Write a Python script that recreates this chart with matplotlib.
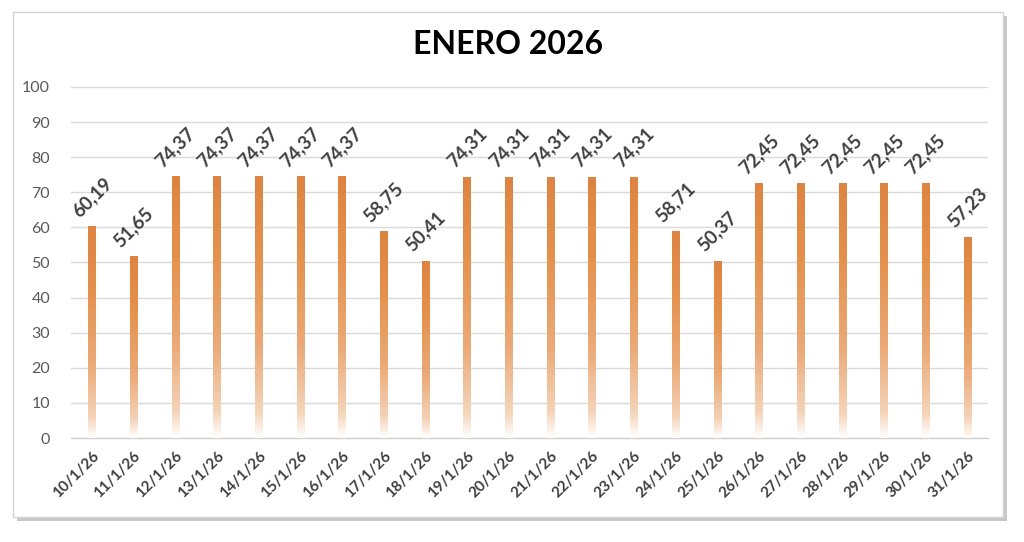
import matplotlib
matplotlib.use("Agg")
import matplotlib.pyplot as plt
import numpy as np
from matplotlib.colors import LinearSegmentedColormap
from matplotlib.patches import Rectangle

categories = ["10/1/26", "11/1/26", "12/1/26", "13/1/26", "14/1/26", "15/1/26", "16/1/26",
              "17/1/26", "18/1/26", "19/1/26", "20/1/26", "21/1/26", "22/1/26", "23/1/26",
              "24/1/26", "25/1/26", "26/1/26", "27/1/26", "28/1/26", "29/1/26", "30/1/26",
              "31/1/26"]
values = [60.19, 51.65, 74.37, 74.37, 74.37, 74.37, 74.37,
          58.75, 50.41, 74.31, 74.31, 74.31, 74.31, 74.31,
          58.71, 50.37, 72.45, 72.45, 72.45, 72.45, 72.45,
          57.23]
title = "ENERO 2026"
yticks = [0, 10, 20, 30, 40, 50, 60, 70, 80, 90, 100]

plt.rcParams['font.family'] = ['Lato', 'DejaVu Sans']

W, H = 1024, 542
fig = plt.figure(figsize=(W / 100, H / 100), dpi=100)
fig.patch.set_facecolor('white')

def fx(px):
    return px / W
def fy(py):
    return 1 - py / H

shadow = Rectangle((fx(17), fy(521)), fx(1007) - fx(17), fy(16) - fy(521),
                   transform=fig.transFigure, facecolor='#c8c8c8', edgecolor='none', zorder=0)
frame = Rectangle((fx(13), fy(517)), fx(1003) - fx(13), fy(12) - fy(517),
                  transform=fig.transFigure, facecolor='white', edgecolor='#d4d4d4',
                  linewidth=1.0, zorder=1)
fig.patches.extend([shadow, frame])

ax = fig.add_axes([fx(71), fy(438), fx(988) - fx(71), fy(87) - fy(438)])
ax.set_facecolor('none')
ax.set_zorder(2)

n = len(values)
x = np.arange(n)
bw = 0.17

cmap = LinearSegmentedColormap.from_list(
    'bar', [(0.0, '#FFFFFF'), (0.10, '#F4D3B8'), (0.35, '#EBAA78'),
            (0.70, '#E4914D'), (1.0, '#DE8442')])
grad = np.linspace(0, 1, 256).reshape(-1, 1)

bars = ax.bar(x, values, width=bw, color='none', edgecolor='none', zorder=3)
for b in bars:
    x0 = b.get_x()
    h = b.get_height()
    ax.imshow(grad, cmap=cmap, origin='lower', aspect='auto',
              extent=[x0, x0 + b.get_width(), 0, h], zorder=3, interpolation='bilinear')

ax.set_xlim(-0.5, n - 0.5)
ax.set_ylim(0, 100)

for xi, v in zip(x, values):
    ax.annotate(f"{v:.2f}".replace('.', ','), (xi, v), xytext=(0, 5),
                textcoords='offset points', rotation=45, ha='center', va='bottom',
                fontsize=13.5, fontweight='bold', color='#404040', zorder=5)

ax.set_yticks(yticks)
ax.set_yticklabels([str(t) for t in yticks], fontsize=11.5, color='#595959')
ax.yaxis.grid(True, color='#d9d9d9', linewidth=1.0)
ax.set_axisbelow(True)
ax.set_xticks(x)
ax.set_xticklabels(categories, rotation=45, ha='right', rotation_mode='anchor',
                   fontsize=11, fontweight='bold', color='#404040')
ax.tick_params(axis='both', length=0)
ax.tick_params(axis='y', pad=15)
ax.tick_params(axis='x', pad=8)
for s in ['top', 'right', 'left']:
    ax.spines[s].set_visible(False)
ax.spines['bottom'].set_color('#d0d0d0')
ax.spines['bottom'].set_linewidth(1.0)

fig.text(fx(508), fy(45), title, ha='center', va='center', fontsize=23,
         fontweight='bold', color='#000000', zorder=5)

fig.savefig('out.png', dpi=100)
